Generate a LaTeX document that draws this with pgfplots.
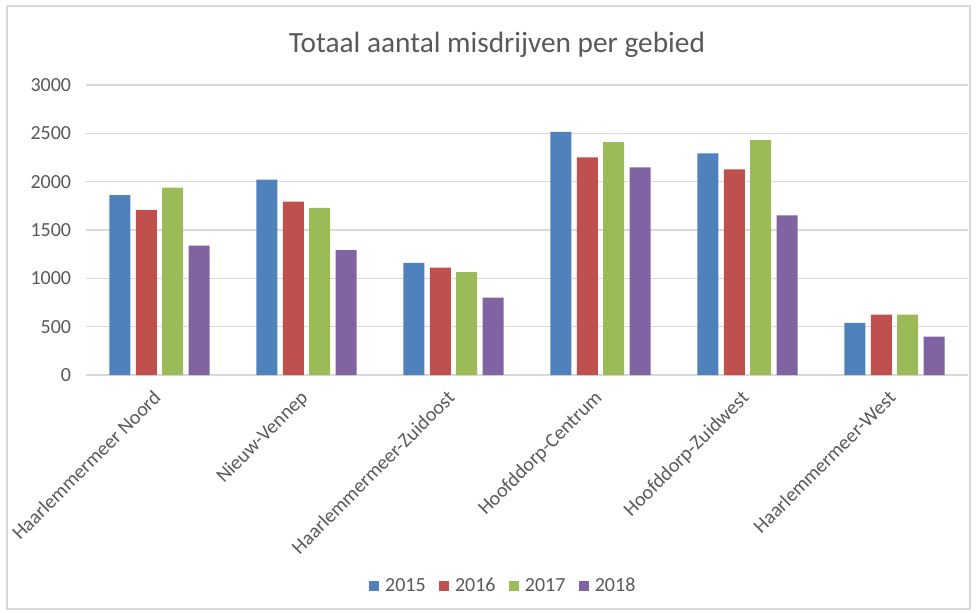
\documentclass[border=0pt]{standalone}
\usepackage{fontspec}
\setmainfont{Carlito}
\usepackage{pgfplots}
\pgfplotsset{compat=1.18}
\definecolor{cA}{HTML}{4F81BD}
\definecolor{cB}{HTML}{C0504D}
\definecolor{cC}{HTML}{9BBB59}
\definecolor{cD}{HTML}{8064A2}
\definecolor{txt}{HTML}{595959}
\definecolor{grd}{HTML}{D9D9D9}
\begin{document}
\begin{tikzpicture}
\path[use as bounding box] (0,0) rectangle (732pt,459pt);
\draw[grd, line width=1pt] (5.25pt,2.25pt) rectangle (727.5pt,454.5pt);
\node[text=txt, font=\fontsize{22}{26}\selectfont] at (372.75pt,425.25pt) {Totaal aantal misdrijven per gebied};
\begin{axis}[
  at={(64.5pt,177.75pt)}, anchor=south west,
  scale only axis, width=661.5pt, height=217.5pt,
  ybar=4.1pt, bar width=15.75pt,
  xmin=-0.5, xmax=5.5, ymin=0, ymax=3000,
  ytick={0,500,...,3000},
  xtick=data,
  xticklabels={Haarlemmermeer Noord,Nieuw-Vennep,Haarlemmermeer-Zuidoost,Hoofddorp-Centrum,Hoofddorp-Zuidwest,Haarlemmermeer-West},
  axis line style={draw=none},
  axis x line*=bottom,
  major tick length=0pt,
  ymajorgrids, grid style={grd, line width=1.1pt},
  every tick label/.append style={text=txt, font=\fontsize{15}{17}\selectfont},
  /pgf/number format/assume math mode=true,
  /pgf/number format/1000 sep={},
  yticklabel style={inner sep=0pt, xshift=-11pt},
  xticklabel style={xshift=-5.6pt, yshift=-7.5pt, rotate=45, anchor=north east, inner sep=2pt},
  legend style={at={(0.4735,-0.7276)}, anchor=center, draw=none, fill=none, legend columns=-1, font=\fontsize{15}{17}\selectfont, text=txt, /tikz/every even column/.append style={column sep=8pt}},
  legend image code/.code={\fill[#1] (0pt,-3.75pt) rectangle (7.5pt,3.75pt); \path (0pt,0pt) -- (10pt,0pt);},
  clip=false,
]
\draw[grd, line width=1.1pt] (axis cs:-0.5,0) -- (axis cs:5.5,0);
\addplot[fill=cA, draw=none] coordinates {(0,1862) (1,2021) (2,1160) (3,2514) (4,2293) (5,538)};
\addplot[fill=cB, draw=none] coordinates {(0,1707) (1,1793) (2,1110) (3,2252) (4,2128) (5,624)};
\addplot[fill=cC, draw=none] coordinates {(0,1938) (1,1728) (2,1065) (3,2410) (4,2431) (5,624)};
\addplot[fill=cD, draw=none] coordinates {(0,1338) (1,1293) (2,800) (3,2148) (4,1652) (5,396)};
\legend{2015,2016,2017,2018}
\end{axis}
\end{tikzpicture}
\end{document}
